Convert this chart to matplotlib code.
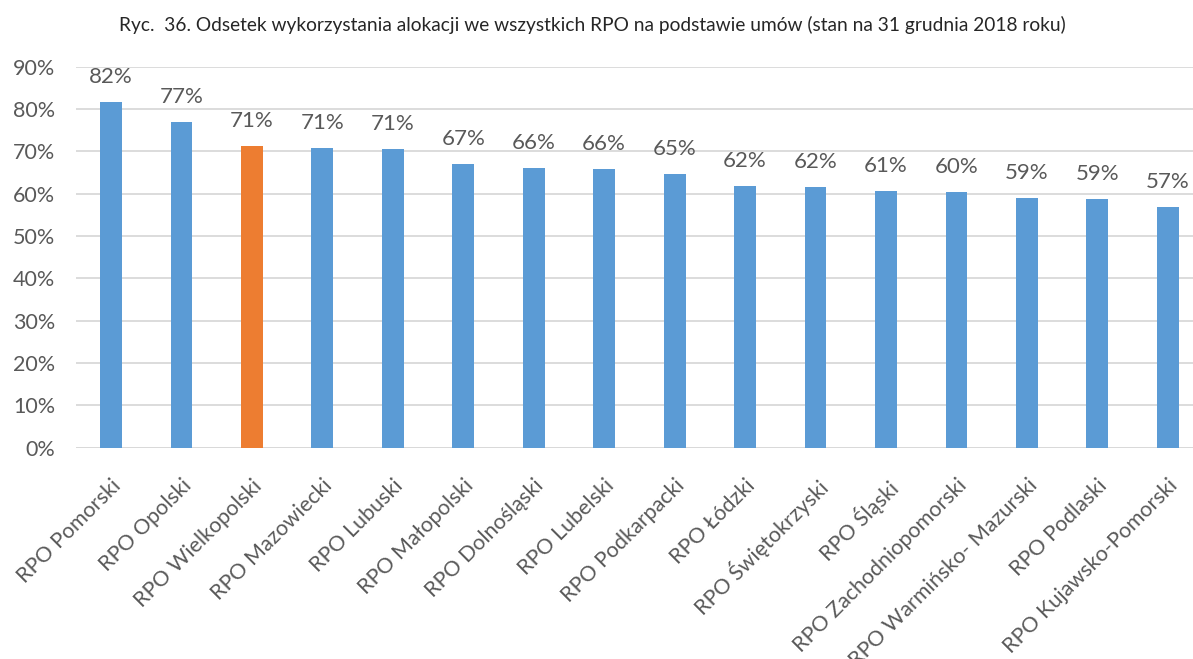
import matplotlib.pyplot as plt
from matplotlib.ticker import FuncFormatter

# share of allocation used under signed contracts, as of 31.12.2018
programmes = [
    "RPO Pomorski", "RPO Opolski", "RPO Wielkopolski", "RPO Mazowiecki",
    "RPO Lubuski", "RPO Małopolski", "RPO Dolnośląski", "RPO Lubelski",
    "RPO Podkarpacki", "RPO Łódzki", "RPO Świętokrzyski", "RPO Śląski",
    "RPO Zachodniopomorski", "RPO Warmińsko- Mazurski", "RPO Podlaski",
    "RPO Kujawsko-Pomorski",
]
usage = [0.817, 0.769, 0.713, 0.709, 0.706, 0.671, 0.661, 0.658,
         0.647, 0.619, 0.616, 0.607, 0.604, 0.591, 0.588, 0.568]
highlight = "RPO Wielkopolski"

BLUE = "#5B9BD5"
ORANGE = "#ED7D31"
TEXT = "#595959"
GRID = "#D9D9D9"

plt.rcParams["font.family"] = ["Lato", "DejaVu Sans"]

W, H = 1193, 659
fig = plt.figure(figsize=(W / 100, H / 100), dpi=100)
ax = fig.add_axes([75.8 / W, (H - 447.7) / H, (1203 - 75.8) / W, (447.7 - 66.7) / H])

x = range(len(programmes))
colors = [ORANGE if p == highlight else BLUE for p in programmes]
bars = ax.bar(x, usage, width=0.31, color=colors, zorder=3)

for rect, v in zip(bars, usage):
    ax.annotate(f"{round(v * 100):d}%", (rect.get_x() + rect.get_width() / 2, v),
                xytext=(0, 18), textcoords="offset points",
                ha="center", va="center", fontsize=16, color=TEXT)

ax.set_xlim(-0.5, len(programmes) - 0.5)
ax.set_ylim(0, 0.9)
ax.set_yticks([i / 10 for i in range(10)])
ax.yaxis.set_major_formatter(FuncFormatter(lambda v, _: f"{v * 100:.0f}%"))
ax.grid(axis="y", color=GRID, linewidth=1.3, zorder=0)
for side in ["top", "right", "left", "bottom"]:
    ax.spines[side].set_visible(False)
ax.axhline(0, color=GRID, linewidth=1.3, zorder=2)

ax.set_xticks(list(x))
ax.set_xticklabels(programmes, rotation=45, ha="right", rotation_mode="anchor",
                   fontsize=15.5, color=TEXT)
ax.tick_params(axis="x", length=0, pad=20)
ax.tick_params(axis="y", length=0, pad=15, labelsize=15.5, labelcolor=TEXT)

fig.text(592 / W, 1 - 25 / H,
         "Ryc.  36. Odsetek wykorzystania alokacji we wszystkich RPO na podstawie umów (stan na 31 grudnia 2018 roku)",
         ha="center", va="center", fontsize=13.8, color="#262626")

fig.savefig("out.png", dpi=100)
